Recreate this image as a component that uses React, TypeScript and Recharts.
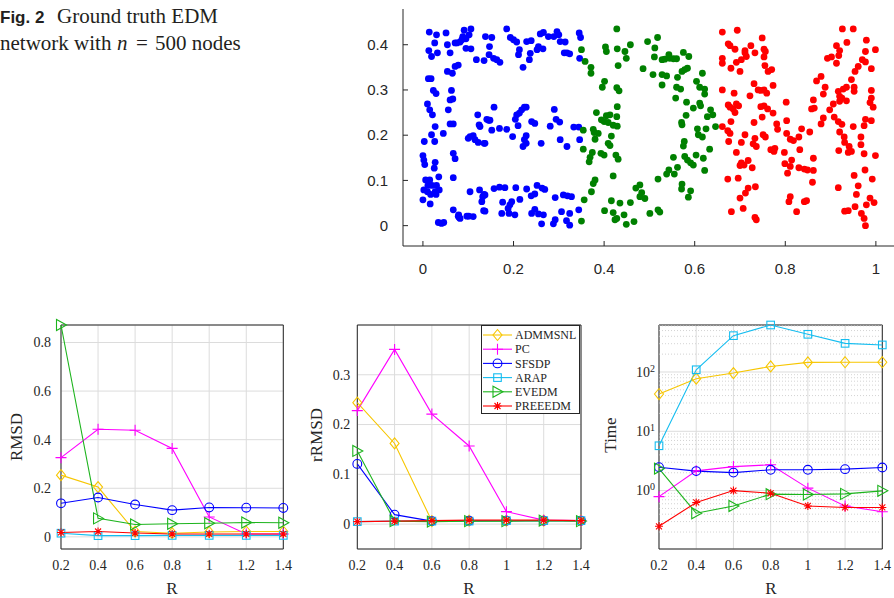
import React from 'react';
import {
  ScatterChart,
  Scatter,
  LineChart,
  Line,
  XAxis,
  YAxis,
  CartesianGrid,
  ReferenceLine,
  ReferenceArea,
} from 'recharts';

const SERIF = '"Liberation Serif", "Times New Roman", serif';
const SANS = '"Liberation Sans", Arial, Helvetica, sans-serif';
const INK = '#262626';

const bluePts: [number, number][] = [
  [0.014, 0.428], [0.026, 0.404], [0.030, 0.422], [0.013, 0.387], [0.019, 0.374], [0.032, 0.382],
  [0.012, 0.325], [0.018, 0.325], [0.023, 0.299], [0.029, 0.292], [0.010, 0.269], [0.015, 0.256],
  [0.021, 0.245], [0.027, 0.219], [0.019, 0.201], [0.003, 0.186], [0.026, 0.186], [0.000, 0.155],
  [0.002, 0.145], [0.004, 0.135], [0.027, 0.140], [0.025, 0.127], [0.006, 0.101], [0.011, 0.089],
  [0.015, 0.101], [0.035, 0.108], [0.020, 0.089], [0.030, 0.089], [0.002, 0.079], [0.010, 0.075],
  [0.027, 0.075], [0.036, 0.079], [0.017, 0.069], [0.029, 0.069], [0.000, 0.057], [0.016, 0.048],
  [0.034, 0.007], [0.041, 0.005], [0.046, 0.007], [0.045, 0.204],
  [0.051, 0.426], [0.054, 0.400], [0.071, 0.404], [0.060, 0.382], [0.071, 0.352], [0.065, 0.337],
  [0.054, 0.341], [0.078, 0.355], [0.063, 0.299], [0.066, 0.280], [0.060, 0.278], [0.056, 0.256],
  [0.060, 0.225], [0.067, 0.225], [0.067, 0.160], [0.071, 0.148], [0.067, 0.106], [0.067, 0.035],
  [0.079, 0.024], [0.080, 0.018],
  [0.075, 0.404], [0.082, 0.406], [0.088, 0.418], [0.086, 0.411], [0.095, 0.413], [0.095, 0.392],
  [0.106, 0.391], [0.091, 0.432], [0.106, 0.435], [0.102, 0.422], [0.118, 0.367], [0.138, 0.418],
  [0.135, 0.365], [0.152, 0.416], [0.147, 0.396], [0.146, 0.378], [0.156, 0.370], [0.163, 0.367],
  [0.170, 0.361], [0.185, 0.435], [0.193, 0.416], [0.200, 0.411], [0.207, 0.406], [0.211, 0.378],
  [0.213, 0.389], [0.221, 0.350], [0.229, 0.407], [0.239, 0.409], [0.237, 0.381], [0.235, 0.367],
  [0.252, 0.389], [0.255, 0.396], [0.265, 0.391], [0.259, 0.424], [0.266, 0.427], [0.277, 0.418],
  [0.289, 0.418], [0.296, 0.429], [0.300, 0.422], [0.303, 0.407], [0.314, 0.406], [0.312, 0.382],
  [0.318, 0.382], [0.324, 0.380], [0.345, 0.426], [0.348, 0.416], [0.346, 0.370],
  [0.121, 0.245], [0.124, 0.223], [0.126, 0.219], [0.141, 0.235], [0.145, 0.233], [0.148, 0.233],
  [0.152, 0.211], [0.157, 0.262], [0.169, 0.215], [0.185, 0.213], [0.210, 0.221], [0.198, 0.197],
  [0.204, 0.235], [0.207, 0.245], [0.213, 0.249], [0.218, 0.256], [0.224, 0.262], [0.228, 0.262],
  [0.228, 0.199], [0.224, 0.190], [0.228, 0.182], [0.221, 0.175], [0.240, 0.230], [0.247, 0.226],
  [0.261, 0.182], [0.281, 0.220], [0.290, 0.257], [0.294, 0.235], [0.302, 0.229], [0.303, 0.190],
  [0.318, 0.175], [0.333, 0.218], [0.344, 0.218], [0.346, 0.190], [0.137, 0.182],
  [0.100, 0.193], [0.104, 0.197], [0.111, 0.199], [0.115, 0.190], [0.122, 0.184], [0.135, 0.182],
  [0.104, 0.075], [0.125, 0.079], [0.132, 0.064], [0.135, 0.069], [0.130, 0.053], [0.134, 0.033],
  [0.157, 0.082], [0.169, 0.085], [0.176, 0.052], [0.181, 0.084], [0.192, 0.046], [0.188, 0.038],
  [0.196, 0.053], [0.205, 0.084], [0.174, 0.027], [0.190, 0.027], [0.203, 0.024], [0.137, 0.068],
  [0.137, 0.032], [0.214, 0.058], [0.229, 0.081], [0.239, 0.066], [0.247, 0.070], [0.252, 0.089],
  [0.263, 0.083], [0.269, 0.080], [0.240, 0.027], [0.247, 0.036], [0.255, 0.026], [0.266, 0.024],
  [0.262, 0.004], [0.292, 0.062], [0.306, 0.031], [0.292, 0.013], [0.288, 0.004], [0.310, 0.068],
  [0.319, 0.066], [0.328, 0.064], [0.324, 0.027], [0.344, 0.035], [0.317, 0.011], [0.324, 0.001],
  [0.078, 0.021], [0.082, 0.016], [0.097, 0.021], [0.101, 0.021], [0.111, 0.020],
];

const greenPts: [number, number][] = [
  [0.428, 0.435], [0.350, 0.389], [0.358, 0.363], [0.371, 0.350], [0.371, 0.337], [0.403, 0.395],
  [0.405, 0.385], [0.429, 0.391], [0.446, 0.385], [0.449, 0.370], [0.458, 0.400], [0.431, 0.354],
  [0.486, 0.347], [0.401, 0.319], [0.396, 0.306], [0.428, 0.305], [0.433, 0.298],
  [0.429, 0.263], [0.383, 0.250], [0.428, 0.241], [0.394, 0.234], [0.405, 0.243], [0.413, 0.245],
  [0.400, 0.230], [0.409, 0.228], [0.420, 0.222], [0.429, 0.220], [0.354, 0.211], [0.376, 0.213],
  [0.378, 0.206], [0.387, 0.204], [0.380, 0.191], [0.416, 0.198], [0.409, 0.182], [0.413, 0.177],
  [0.354, 0.169], [0.374, 0.162], [0.369, 0.151], [0.367, 0.141], [0.393, 0.160], [0.400, 0.156],
  [0.426, 0.156], [0.431, 0.147],
  [0.420, 0.110], [0.380, 0.101], [0.376, 0.093], [0.372, 0.075], [0.356, 0.057], [0.416, 0.055],
  [0.435, 0.050], [0.458, 0.051], [0.470, 0.083], [0.479, 0.090], [0.483, 0.073], [0.479, 0.064],
  [0.490, 0.060], [0.401, 0.033], [0.420, 0.029], [0.428, 0.016], [0.424, 0.013], [0.444, 0.024],
  [0.449, 0.003], [0.466, 0.009], [0.350, 0.010],
  [0.518, 0.416], [0.496, 0.407], [0.512, 0.393], [0.511, 0.373], [0.528, 0.367], [0.534, 0.368],
  [0.543, 0.378], [0.545, 0.370], [0.553, 0.369], [0.560, 0.369], [0.575, 0.383], [0.587, 0.374],
  [0.508, 0.334], [0.528, 0.334], [0.538, 0.331], [0.528, 0.311], [0.562, 0.328], [0.572, 0.341],
  [0.578, 0.345], [0.584, 0.348], [0.617, 0.337], [0.604, 0.319], [0.611, 0.306], [0.622, 0.302],
  [0.622, 0.291], [0.560, 0.306], [0.569, 0.302], [0.558, 0.282], [0.582, 0.273], [0.597, 0.260],
  [0.611, 0.271], [0.613, 0.265], [0.635, 0.256], [0.640, 0.245], [0.628, 0.241], [0.581, 0.244],
  [0.571, 0.228], [0.572, 0.223], [0.606, 0.214], [0.625, 0.214], [0.646, 0.219], [0.608, 0.201],
  [0.617, 0.196], [0.577, 0.186], [0.575, 0.176], [0.633, 0.169], [0.553, 0.151], [0.578, 0.153],
  [0.584, 0.145], [0.591, 0.139], [0.597, 0.134], [0.603, 0.156], [0.619, 0.149], [0.562, 0.129],
  [0.543, 0.123], [0.538, 0.114], [0.555, 0.114], [0.622, 0.122], [0.519, 0.103], [0.572, 0.092],
  [0.571, 0.081], [0.591, 0.077], [0.586, 0.063], [0.501, 0.027], [0.519, 0.035], [0.523, 0.030],
];

const redPts: [number, number][] = [
  [0.661, 0.428], [0.694, 0.432], [0.749, 0.415], [0.674, 0.402], [0.678, 0.398], [0.689, 0.390],
  [0.661, 0.370], [0.661, 0.359], [0.680, 0.348], [0.692, 0.361], [0.700, 0.341], [0.703, 0.367],
  [0.711, 0.387], [0.714, 0.374], [0.711, 0.382], [0.724, 0.398], [0.733, 0.382], [0.753, 0.390],
  [0.756, 0.385], [0.753, 0.373], [0.755, 0.354], [0.762, 0.341], [0.770, 0.345], [0.661, 0.300],
  [0.687, 0.293], [0.722, 0.287], [0.731, 0.314], [0.740, 0.300], [0.746, 0.299], [0.753, 0.300],
  [0.759, 0.293], [0.773, 0.310], [0.802, 0.273], [0.674, 0.267], [0.678, 0.262], [0.685, 0.258],
  [0.692, 0.269], [0.697, 0.265], [0.689, 0.250], [0.746, 0.263], [0.753, 0.265], [0.761, 0.258],
  [0.749, 0.240], [0.773, 0.249], [0.661, 0.219], [0.673, 0.210], [0.678, 0.204], [0.680, 0.230],
  [0.731, 0.228], [0.711, 0.201], [0.703, 0.184], [0.733, 0.193], [0.729, 0.181], [0.736, 0.175],
  [0.751, 0.201], [0.756, 0.196], [0.781, 0.225], [0.783, 0.213], [0.803, 0.232], [0.803, 0.204],
  [0.811, 0.191], [0.818, 0.188], [0.836, 0.214], [0.830, 0.196], [0.768, 0.168], [0.775, 0.164],
  [0.777, 0.171], [0.798, 0.162], [0.832, 0.168], [0.675, 0.186], [0.692, 0.162], [0.703, 0.139],
  [0.700, 0.133], [0.709, 0.134], [0.718, 0.144], [0.727, 0.128], [0.799, 0.137], [0.811, 0.131],
  [0.814, 0.145], [0.805, 0.116], [0.830, 0.128], [0.842, 0.125], [0.673, 0.103], [0.696, 0.105],
  [0.734, 0.086], [0.718, 0.083], [0.712, 0.072], [0.700, 0.061], [0.811, 0.064], [0.808, 0.053],
  [0.842, 0.053], [0.681, 0.031], [0.707, 0.038], [0.733, 0.018], [0.736, 0.013], [0.825, 0.031],
  [0.926, 0.435], [0.950, 0.435], [0.936, 0.405], [0.979, 0.410], [0.913, 0.398], [0.920, 0.387],
  [0.918, 0.376], [0.893, 0.370], [0.902, 0.373], [0.913, 0.359], [0.977, 0.385], [0.999, 0.389],
  [0.970, 0.367], [0.977, 0.362], [0.990, 0.347], [0.961, 0.352], [0.954, 0.341], [0.879, 0.330],
  [0.869, 0.320], [0.888, 0.306], [0.884, 0.291], [0.946, 0.323], [0.952, 0.306], [0.952, 0.297],
  [0.935, 0.306], [0.928, 0.302], [0.917, 0.297], [0.920, 0.286], [0.925, 0.282], [0.920, 0.275],
  [0.935, 0.276], [0.990, 0.299], [0.990, 0.282], [0.987, 0.272], [0.994, 0.262], [0.862, 0.278],
  [0.858, 0.258], [0.864, 0.260], [0.898, 0.256], [0.906, 0.269], [0.884, 0.238], [0.879, 0.225],
  [0.908, 0.240], [0.917, 0.230], [0.925, 0.224], [0.950, 0.219], [0.977, 0.235], [0.990, 0.232],
  [0.974, 0.221], [0.854, 0.207], [0.920, 0.207], [0.930, 0.196], [0.931, 0.184], [0.941, 0.175],
  [0.946, 0.164], [0.939, 0.162], [0.967, 0.196], [0.967, 0.179], [0.918, 0.166], [0.974, 0.159],
  [0.999, 0.155], [0.862, 0.149], [0.849, 0.123], [0.862, 0.122], [0.860, 0.096], [0.917, 0.084],
  [0.952, 0.111], [0.976, 0.123], [0.992, 0.103], [0.961, 0.088], [0.957, 0.069], [0.987, 0.061],
  [0.996, 0.051], [0.979, 0.046], [0.954, 0.042], [0.939, 0.033], [0.931, 0.032], [0.968, 0.027],
  [0.974, 0.016], [0.977, 0.000], [0.847, 0.055],
];

const scatterXTicks = [0, 0.2, 0.4, 0.6, 0.8, 1];
const scatterYTicks = [0, 0.1, 0.2, 0.3, 0.4];

// results vs R
const R = [0.2, 0.4, 0.6, 0.8, 1, 1.2, 1.4];

const rmsdAdmmsnl = [0.254, 0.205, 0.022, 0.015, 0.02, 0.022, 0.022];
const rmsdPc = [0.326, 0.443, 0.439, 0.364, 0.082, 0.012, 0.012];
const rmsdSfsdp = [0.138, 0.162, 0.133, 0.11, 0.121, 0.12, 0.119];
const rmsdArap = [0.015, 0.005, 0.005, 0.006, 0.006, 0.006, 0.006];
const rmsdEvedm = [0.872, 0.076, 0.051, 0.054, 0.056, 0.059, 0.058];
const rmsdPreeedm = [0.018, 0.022, 0.016, 0.012, 0.012, 0.012, 0.012];

const rrmsdAdmmsnl = [0.244, 0.162, 0.006, 0.007, 0.007, 0.007, 0.007];
const rrmsdPc = [0.228, 0.351, 0.221, 0.157, 0.025, 0.008, 0.007];
const rrmsdSfsdp = [0.121, 0.019, 0.006, 0.007, 0.007, 0.007, 0.007];
const rrmsdArap = [0.005, 0.006, 0.006, 0.006, 0.007, 0.007, 0.007];
const rrmsdEvedm = [0.147, 0.006, 0.005, 0.006, 0.006, 0.007, 0.006];
const rrmsdPreeedm = [0.005, 0.006, 0.007, 0.008, 0.008, 0.008, 0.007];

const timeAdmmsnl = [42.5, 77, 96, 124, 145, 146, 146];
const timePc = [0.79, 2.15, 2.54, 2.72, 1.1, 0.55, 0.44];
const timeSfsdp = [2.48, 2.13, 2.01, 2.24, 2.24, 2.3, 2.45];
const timeArap = [5.7, 109, 410, 620, 432, 304, 286];
const timeEvedm = [2.35, 0.415, 0.55, 0.87, 0.86, 0.88, 0.99];
const timePreeedm = [0.25, 0.63, 1.0, 0.9, 0.55, 0.52, 0.52];

const rmsdTicks = [0, 0.2, 0.4, 0.6, 0.8];
const rrmsdTicks = [0, 0.1, 0.2, 0.3];
const timeTicks = [1, 10, 100];
const timeMinor = [0.2, 0.3, 0.4, 0.5, 0.6, 0.7, 0.8, 0.9, 2, 3, 4, 5, 6, 7, 8, 9, 20, 30, 40, 50, 60, 70, 80, 90, 200, 300, 400, 500, 600];

const SERIES = [
  { name: 'ADMMSNL', color: '#F7C600', marker: 'diamond' },
  { name: 'PC', color: '#FF00FF', marker: 'plus' },
  { name: 'SFSDP', color: '#0000FF', marker: 'circle' },
  { name: 'ARAP', color: '#14BDF0', marker: 'square' },
  { name: 'EVEDM', color: '#1DB41D', marker: 'triangle' },
  { name: 'PREEEDM', color: '#FF0000', marker: 'star' },
];

function buildRows(cols: number[][]) {
  return R.map((r, i) => {
    const row: any = { R: r };
    SERIES.forEach((s, j) => {
      row[s.name] = cols[j][i];
    });
    return row;
  });
}

const rmsdRows = buildRows([rmsdAdmmsnl, rmsdPc, rmsdSfsdp, rmsdArap, rmsdEvedm, rmsdPreeedm]);
const rrmsdRows = buildRows([rrmsdAdmmsnl, rrmsdPc, rrmsdSfsdp, rrmsdArap, rrmsdEvedm, rrmsdPreeedm]);
const timeRows = buildRows([timeAdmmsnl, timePc, timeSfsdp, timeArap, timeEvedm, timePreeedm]);

function Marker({ kind, cx, cy, color }: { kind: string; cx: number; cy: number; color: string }) {
  const sw = 1.1;
  switch (kind) {
    case 'diamond':
      return <polygon points={`${cx},${cy - 5.5} ${cx + 4.5},${cy} ${cx},${cy + 5.5} ${cx - 4.5},${cy}`} fill="none" stroke={color} strokeWidth={sw} />;
    case 'plus':
      return <path d={`M${cx - 5.5},${cy}H${cx + 5.5}M${cx},${cy - 5.5}V${cy + 5.5}`} stroke={color} strokeWidth={sw} fill="none" />;
    case 'circle':
      return <circle cx={cx} cy={cy} r={4.4} fill="none" stroke={color} strokeWidth={sw} />;
    case 'square':
      return <rect x={cx - 3.8} y={cy - 3.8} width={7.6} height={7.6} fill="none" stroke={color} strokeWidth={sw} />;
    case 'triangle':
      return <polygon points={`${cx + 5.5},${cy} ${cx - 4.5},${cy - 5.5} ${cx - 4.5},${cy + 5.5}`} fill="none" stroke={color} strokeWidth={sw} />;
    default:
      return (
        <path
          d={`M${cx - 4},${cy}H${cx + 4}M${cx},${cy - 4}V${cy + 4}M${cx - 3},${cy - 3}L${cx + 3},${cy + 3}M${cx - 3},${cy + 3}L${cx + 3},${cy - 3}`}
          stroke={color}
          strokeWidth={sw}
          fill="none"
        />
      );
  }
}

const ScatterXTick = (p: any) => {
  const axisY = p.y - 17;
  return (
    <g>
      <line x1={p.x} x2={p.x} y1={axisY} y2={axisY - 5} stroke={INK} />
      <text x={p.x} y={p.y} dy="0.71em" textAnchor="middle" fontFamily={SANS} fontSize={15} fill={INK}>
        {p.payload.value}
      </text>
    </g>
  );
};

const ScatterYTick = (p: any) => {
  const axisX = p.x + 15;
  return (
    <g>
      <line x1={axisX} x2={axisX + 5} y1={p.y} y2={p.y} stroke={INK} />
      <text x={p.x} y={p.y} dy="0.35em" textAnchor="end" fontFamily={SANS} fontSize={15} fill={INK}>
        {p.payload.value}
      </text>
    </g>
  );
};

const SerifXTick = (p: any) => (
  <text x={p.x} y={p.y} dy="0.71em" textAnchor="middle" fontFamily={SERIF} fontSize={14} fill={INK}>
    {p.payload.value}
  </text>
);

const SerifYTick = (p: any) => (
  <text x={p.x} y={p.y} dy="0.35em" textAnchor="end" fontFamily={SERIF} fontSize={14} fill={INK}>
    {p.payload.value}
  </text>
);

const LogYTick = (p: any) => (
  <text x={p.x} y={p.y} dy="0.35em" textAnchor="end" fontFamily={SERIF} fontSize={14} fill={INK}>
    10
    <tspan dy="-0.5em" fontSize={10}>
      {Math.round(Math.log10(p.payload.value))}
    </tspan>
  </text>
);

type PanelProps = {
  left: number;
  width: number;
  yAxisWidth: number;
  marginRight: number;
  rows: any[];
  yDomain: [number, number];
  yTicks: number[];
  yTickGap: number;
  log?: boolean;
};

function Panel({ left, width, yAxisWidth, marginRight, rows, yDomain, yTicks, yTickGap, log }: PanelProps) {
  return (
    <div style={{ position: 'absolute', left, top: 315 }}>
      <LineChart width={width} height={279} data={rows} margin={{ top: 10, right: marginRight, bottom: 0, left: 0 }}>
        <CartesianGrid stroke="#dcdcdc" strokeWidth={1} />
        {log &&
          timeMinor.map((v) => (
            <ReferenceLine key={v} y={v} stroke="#c8c8c8" strokeDasharray="1 2" strokeWidth={0.8} />
          ))}
        <XAxis
          dataKey="R"
          type="number"
          domain={[0.2, 1.4]}
          ticks={R}
          interval={0}
          tickSize={0}
          tickMargin={11}
          axisLine={false}
          tickLine={false}
          height={45}
          tick={SerifXTick}
        />
        <YAxis
          type="number"
          scale={log ? 'log' : 'linear'}
          domain={yDomain}
          ticks={yTicks}
          interval={0}
          tickSize={0}
          tickMargin={yTickGap}
          axisLine={false}
          tickLine={false}
          width={yAxisWidth}
          tick={log ? LogYTick : SerifYTick}
        />
        {SERIES.map((s) => (
          <Line
            key={s.name}
            type="linear"
            dataKey={s.name}
            stroke={s.color}
            strokeWidth={1.1}
            dot={(d: any) => <Marker key={`${s.name}-${d.index}`} kind={s.marker} cx={d.cx} cy={d.cy} color={s.color} />}
            activeDot={false}
            isAnimationActive={false}
          />
        ))}
        <ReferenceArea x1={0.2} x2={1.4} y1={yDomain[0]} y2={yDomain[1]} fill="none" fillOpacity={0} stroke={INK} strokeWidth={1} />
      </LineChart>
    </div>
  );
}

function Label({ x, y, text, rotate }: { x: number; y: number; text: string; rotate?: boolean }) {
  return (
    <div
      style={{
        position: 'absolute',
        left: x,
        top: y,
        transform: `translate(-50%, -50%)${rotate ? ' rotate(-90deg)' : ''}`,
        fontFamily: SERIF,
        fontSize: 17,
        lineHeight: '17px',
        color: INK,
        whiteSpace: 'nowrap',
      }}
    >
      {text}
    </div>
  );
}

function LegendBox() {
  const rowY = [10, 24.2, 38.4, 52.6, 66.8, 81];
  return (
    <svg style={{ position: 'absolute', left: 481, top: 325 }} width={100} height={90}>
      <rect x={0.5} y={0.5} width={98} height={88} fill="#fff" stroke={INK} strokeWidth={1} />
      {SERIES.map((s, i) => (
        <g key={s.name}>
          <line x1={2} x2={31} y1={rowY[i]} y2={rowY[i]} stroke={s.color} strokeWidth={1.1} />
          <Marker kind={s.marker} cx={16.5} cy={rowY[i]} color={s.color} />
          <text x={34} y={rowY[i]} dy="0.35em" fontFamily={SERIF} fontSize={12} fill={INK}>
            {s.name}
          </text>
        </g>
      ))}
    </svg>
  );
}

function Caption() {
  return (
    <svg style={{ position: 'absolute', left: 0, top: 0 }} width={340} height={60}>
      <text x={0} y={22.5} fontFamily={SANS} fontWeight="bold" fontSize={17} fill="#231f20">
        Fig. 2
      </text>
      <text x={57} y={22.5} fontFamily={SERIF} fontSize={21} fill="#231f20">
        Ground truth EDM
      </text>
      <text y={49.5} fontFamily={SERIF} fontSize={21} fill="#231f20">
        <tspan x={0}>network with</tspan>
        <tspan x={117} fontStyle="italic">n</tspan>
        <tspan x={136}>=</tspan>
        <tspan x={155}>500 nodes</tspan>
      </text>
    </svg>
  );
}

const dotShape = (color: string) => (p: any) => <circle cx={p.cx} cy={p.cy} r={3.4} fill={color} />;

export default function App() {
  const blue = bluePts.map(([x, y]) => ({ x, y }));
  const green = greenPts.map(([x, y]) => ({ x, y }));
  const red = redPts.map(([x, y]) => ({ x, y }));

  return (
    <div style={{ position: 'fixed', left: 0, top: 0, width: 894, height: 598, background: '#fff', overflow: 'hidden' }}>
      <Caption />

      <div style={{ position: 'absolute', left: 340, top: 0 }}>
        <ScatterChart width={554} height={290} margin={{ top: 9, right: 0, bottom: 0, left: 0 }}>
          <XAxis
            type="number"
            dataKey="x"
            domain={[-0.044, 1.04]}
            allowDataOverflow
            ticks={scatterXTicks}
            interval={0}
            tickSize={0}
            tickMargin={17}
            height={44}
            axisLine={{ stroke: INK }}
            tickLine={false}
            tick={ScatterXTick}
          />
          <YAxis
            type="number"
            dataKey="y"
            domain={[-0.045, 0.479]}
            allowDataOverflow
            ticks={scatterYTicks}
            interval={0}
            tickSize={0}
            tickMargin={15}
            width={63}
            axisLine={{ stroke: INK }}
            tickLine={false}
            tick={ScatterYTick}
          />
          <Scatter data={blue} fill="#0000FF" shape={dotShape('#0000FF')} isAnimationActive={false} />
          <Scatter data={green} fill="#008000" shape={dotShape('#008000')} isAnimationActive={false} />
          <Scatter data={red} fill="#FF0000" shape={dotShape('#FF0000')} isAnimationActive={false} />
        </ScatterChart>
      </div>

      <Panel left={0} width={300} yAxisWidth={61} marginRight={16.7} rows={rmsdRows} yDomain={[-0.05, 0.872]} yTicks={rmsdTicks} yTickGap={10} />
      <Panel left={300} width={300} yAxisWidth={57.3} marginRight={19} rows={rrmsdRows} yDomain={[-0.05, 0.4]} yTicks={rrmsdTicks} yTickGap={7} />
      <Panel left={590} width={304} yAxisWidth={69} marginRight={11.7} rows={timeRows} yDomain={[0.1035, 620]} yTicks={timeTicks} yTickGap={4} log />

      <LegendBox />

      <Label x={16} y={437} text="RMSD" rotate />
      <Label x={316} y={435} text="rRMSD" rotate />
      <Label x={610} y={435} text="Time" rotate />
      <Label x={172} y={588} text="R" />
      <Label x={469} y={588} text="R" />
      <Label x={771} y={588} text="R" />
    </div>
  );
}
